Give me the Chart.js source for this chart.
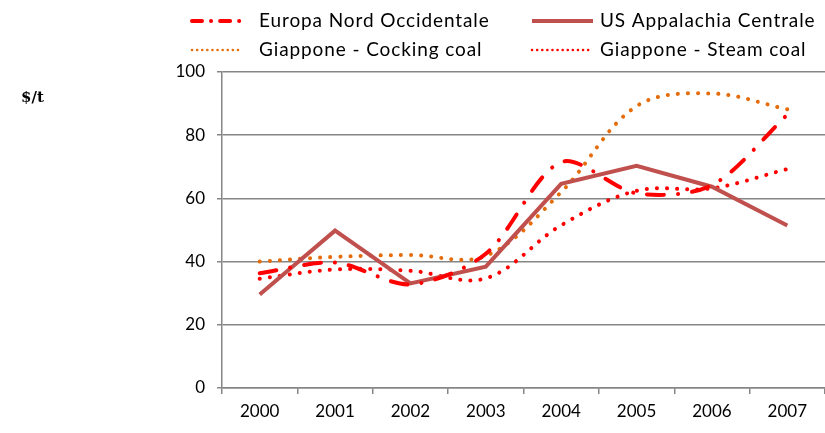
<!DOCTYPE html>
<html><head><meta charset="utf-8">
<script src="https://cdn.jsdelivr.net/npm/chart.js@4.4.1/dist/chart.umd.min.js"></script>
<style>html,body{margin:0;padding:0;background:#fff;}canvas{display:block;}</style>
</head><body>
<canvas id="c" width="825" height="433"></canvas>
<script>
const years = ['2000','2001','2002','2003','2004','2005','2006','2007'];
const europaNord = [36.3, 39.7, 32.8, 42.5, 71.5, 61.6, 64.2, 86.5];
const usAppalachia = [29.6, 49.8, 33.1, 38.4, 64.6, 70.3, 63.7, 51.4];
const giapponeCocking = [40.0, 41.5, 42.1, 41.8, 62.0, 89.2, 93.2, 88.2];
const giapponeSteam = [34.6, 37.5, 37.1, 34.7, 51.5, 62.4, 63.2, 69.3];
const yTicks = [0, 20, 40, 60, 80, 100];
const seriesNames = ['Europa Nord Occidentale', 'US Appalachia Centrale', 'Giappone - Cocking coal', 'Giappone - Steam coal'];

const FONT = 'Lato';
const legendPlugin = {
  id: 'customLegend',
  afterDraw(chart) {
    const ctx = chart.ctx;
    const pos = [[192, 242, 259, 21], [532, 593, 600, 21], [192, 242, 259, 50], [532, 593, 600, 50]];
    ctx.save();
    chart.data.datasets.forEach((ds, i) => {
      const [x1, x2, tx, y] = pos[i];
      ctx.beginPath();
      ctx.strokeStyle = ds.borderColor;
      ctx.lineWidth = ds.legendWidth || ds.borderWidth;
      ctx.lineCap = ds.borderCapStyle || 'butt';
      ctx.setLineDash(ds.legendDash || ds.borderDash || []);
      ctx.moveTo(x1, y); ctx.lineTo(x2, y); ctx.stroke();
      ctx.setLineDash([]);
      ctx.fillStyle = '#000';
      ctx.font = '19px ' + FONT;
      ctx.letterSpacing = '0.9px';
      ctx.textBaseline = 'middle';
      ctx.textAlign = 'left';
      ctx.fillText(ds.label, tx, y);
    });
    ctx.letterSpacing = '0px';
    ctx.font = 'bold 15px "DejaVu Serif"';
    ctx.textBaseline = 'middle';
    ctx.fillText('$/t', 21, 98);
    ctx.restore();
  }
};

new Chart(document.getElementById('c'), {
  type: 'line',
  data: {
    labels: years,
    datasets: [
      { label: seriesNames[0], data: europaNord, borderColor: '#FF0000', borderWidth: 4, borderDash: [17, 14, 0.1, 14], legendDash: [10, 9, 0.1, 9], borderCapStyle: 'round', tension: 0.3, fill: false, pointRadius: 0 },
      { label: seriesNames[1], data: usAppalachia, borderColor: '#C0504D', borderWidth: 4, tension: 0, fill: false, pointRadius: 0 },
      { label: seriesNames[2], data: giapponeCocking, borderColor: '#E46C0A', borderWidth: 4, legendWidth: 2.5, borderDash: [0.1, 10], legendDash: [0.1, 5], borderCapStyle: 'round', tension: 0.35, fill: false, pointRadius: 0 },
      { label: seriesNames[3], data: giapponeSteam, borderColor: '#FF0000', borderWidth: 4, legendWidth: 2.5, borderDash: [0.1, 10], legendDash: [0.1, 5], borderCapStyle: 'round', tension: 0.35, fill: false, pointRadius: 0 }
    ]
  },
  options: {
    responsive: false,
    devicePixelRatio: 1,
    animation: false,
    layout: { padding: { top: 72, left: 0, right: 0, bottom: 0 } },
    plugins: { legend: { display: false }, tooltip: { enabled: false } },
    scales: {
      x: {
        offset: true,
        grid: { offset: true, drawOnChartArea: false, drawTicks: true, tickLength: 6, color: '#868686', lineWidth: 1.5 },
        border: { color: '#868686', width: 1.5 },
        ticks: { color: '#000', font: { family: FONT, size: 17 }, padding: 7, maxRotation: 0 },
        afterFit(s) { s.height = 45; }
      },
      y: {
        min: 0, max: 100,
        afterBuildTicks(s) { s.ticks = yTicks.map(v => ({ value: v })); },
        grid: { color: '#868686', lineWidth: 1.5, tickLength: 5, drawTicks: true },
        border: { color: '#868686', width: 1.5 },
        ticks: { color: '#000', font: { family: FONT, size: 17 }, padding: 12 },
        afterFit(s) { s.width = 222; }
      }
    }
  },
  plugins: [legendPlugin]
});
</script>
</body></html>
